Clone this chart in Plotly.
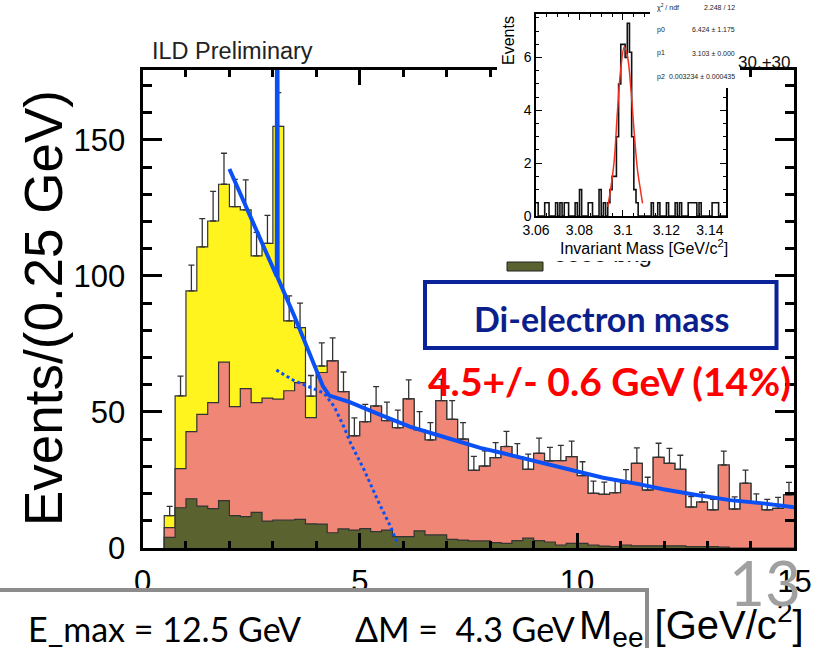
import numpy as np
import plotly.graph_objects as go

W, H = 827, 648
def PX(x): return x / W
def PY(y): return 1 - y / H

# ---------------- main histogram data (bins of 0.25 GeV starting at 0.5 GeV) ----------------
bin_start = 0.5
bin_width = 0.25
olive_bkg = [3.9,14.8,18.1,15.4,14.5,17.4,11.9,11.5,13.1,9.9,10.3,10.3,10.5,8.9,8.8,5.6,7.0,6.6,7.1,6.0,
             6.6,4.2,4.2,6.3,4.8,4.8,3.2,2.9,2.6,2.6,2.0,1.7,2.7,3.6,2.7,2.2,1.1,1.7,1.7,1.1,
             0.7,0.5,1.1,0.8,0.8,0.8,0.8,0.8,0.5,0.5,0.5,0.3,0,0,0,0,0,0]
salmon_bkg = [3.6,14.4,24.7,33.7,38.9,50.9,40.1,47.1,40.3,45.2,44.4,47.5,50.3,39.0,55.7,63.2,50.5,34.6,39.3,46.2,
              40.2,40.0,50.6,37.1,34.9,49.4,44.1,37.1,25.9,27.5,31.2,35.6,30.9,25.3,32.1,29.8,31.0,31.9,24.9,19.0,
              19.0,19.8,22.7,30.3,20.5,32.5,30.3,28.1,14.5,16.4,13.5,30.2,14.3,23.8,16.4,14.0,14.6,19.5]
yellow_sig = [4.4,26.7,51.7,61.6,66.8,65.4,73.5,65.7,54.0,56.9,100.3,25.7,20.2,7.9,2.4,0,0,0,0,0,
              0,0,0,0,0,0,0,0,0,0,0,0,0,0,0,0,0,0,0,0,
              0,0,0,0,0,0,0,0,0,0,0,0,0,0,0,0,0,0]
err_up = [3.4,7.3,9.5,10.4,10.9,11.4,10.0,11.0,8.6,10.3,12.4,9.2,9.0,7.6,8.5,8.4,7.2,6.6,6.4,7.1,
          6.8,6.5,7.0,6.7,6.4,7.8,6.9,6.1,5.2,5.6,5.5,5.6,4.8,5.6,5.6,5.0,5.6,5.7,5.1,4.5,
          4.5,4.6,5.0,5.7,4.7,5.2,5.5,5.2,3.9,3.6,3.9,5.1,4.5,4.8,3.5,3.9,4.0,4.6]

# fit curve
fit_x = [2.0, 2.5, 3.0, 3.09, 3.10, 3.11, 3.5, 4.0, 4.15, 4.3, 4.56, 4.77, 5.39, 6.15, 6.92, 7.77, 8.30,
         9.07, 9.84, 10.6, 11.45, 11.98, 12.75, 13.52, 14.28, 15.0]
fit_y = [139.3, 121.2, 103.1, 99.8, 400.0, 99.4, 85.0, 66.0, 59.5, 56.0, 54.6, 53.6, 49.5, 44.6, 40.9, 36.8, 34.8,
         31.7, 28.7, 25.8, 23.4, 21.6, 19.5, 17.6, 16.4, 15.0]
dot_x = [3.08, 3.49, 3.87, 4.18, 4.41, 4.64, 4.79, 5.10, 5.41, 5.71, 5.88]
dot_y = [65.4, 61.5, 59.0, 56.9, 52.0, 44.3, 38.5, 28.7, 17.6, 7.8, 1.1]

# ---------------- inset data ----------------
inset_start = 3.060
inset_width = 0.001
inset_counts = [0.5,0,0,0,0.5,0.5,0,0,0,0.5, 0,0.5,0,0.5,0.5,0,0,0,0.5,0,
                1.0,0,0,0,0.5,0.5,0,0,0,1.0, 0,0.5,0,0.5,1.0,1.5,1.5,3.0,5.0,6.5,
                6.5,6.0,7.3,6.2,3.0,1.0,0.5,0,0,0, 0,0,0,0.5,0,0,0.5,0,0,0,
                0.5,0,0,0,0.5,0,0.5,0,0,0, 0.5,0.5,0.5,0.5,0,0.5,0,0,0,0,
                0,0.5,0.5,0.5,0,0,0,0,0,0]
gaus_x = [3.0930,3.0945,3.0960,3.0975,3.0991,3.1006,3.1021,3.1037,3.1052,3.1067,3.1083,3.1090]
gaus_y = [0.35,1.11,2.12,4.0,5.66,6.41,6.04,4.77,3.13,1.74,0.86,0.48]

# ---------------- build figure ----------------
olive = np.array(olive_bkg)
salmon = np.array(salmon_bkg)
yellow = np.array(yellow_sig)
nb = len(olive)
edges = bin_start + bin_width * np.arange(nb + 1)
centers = edges[:-1] + bin_width / 2
cum1 = olive
cum2 = olive + salmon
cum3 = olive + salmon + yellow

def step(vals):
    xs = np.concatenate([[edges[0]], edges])
    ys = np.concatenate([[0.0], vals, [vals[-1]]])
    return xs, ys

fig = go.Figure()
outline = dict(color='#333333', width=1.2, shape='hv')
for vals, col in [(cum3, '#FFF41E'), (cum2, '#EF8676'), (cum1, '#5A622F')]:
    xs, ys = step(vals)
    fig.add_trace(go.Scatter(x=xs, y=ys, mode='lines', line=outline, fill='tozeroy',
                             fillcolor=col, showlegend=False, hoverinfo='skip'))

fig.add_trace(go.Scatter(x=centers, y=cum3, mode='markers',
                         marker=dict(size=1, color='rgba(0,0,0,0)'),
                         error_y=dict(type='data', symmetric=False, array=err_up,
                                      arrayminus=[0] * nb, color='#333333', thickness=1.3, width=3),
                         showlegend=False, hoverinfo='skip'))

fig.add_trace(go.Scatter(x=dot_x, y=dot_y, mode='lines',
                         line=dict(color='#0A50F5', width=3, dash='dot'), showlegend=False))
fig.add_trace(go.Scatter(x=fit_x, y=fit_y, mode='lines',
                         line=dict(color='#0A50F5', width=4), showlegend=False))

# partially hidden legend text (inside main subplot so the inset covers its top)
fig.add_trace(go.Scatter(x=[9.45], y=[107.4], mode='text', text=['eeee bkg'], textposition='middle right',
                         textfont=dict(family='Liberation Sans', size=24, color='#111'),
                         cliponaxis=False, showlegend=False))

# cover subplot (white area of the inset picture)
fig.add_trace(go.Scatter(x=[0], y=[0], mode='markers', marker=dict(opacity=0),
                         xaxis='x2', yaxis='y2', showlegend=False, hoverinfo='skip'))

# inset histogram
ie = inset_start + inset_width * np.arange(len(inset_counts) + 1)
ic = np.array(inset_counts)
fig.add_trace(go.Scatter(x=ie, y=np.concatenate([ic, [ic[-1]]]), mode='lines',
                         line=dict(color='#111111', width=1.6, shape='hv'),
                         xaxis='x3', yaxis='y3', showlegend=False))
fig.add_trace(go.Scatter(x=gaus_x, y=gaus_y, mode='lines', line=dict(color='#F03020', width=1.5, shape='spline'),
                         xaxis='x3', yaxis='y3', showlegend=False))
# stats box cover
fig.add_trace(go.Scatter(x=[0], y=[0], mode='markers', marker=dict(opacity=0),
                         xaxis='x4', yaxis='y4', showlegend=False, hoverinfo='skip'))

tickfont = dict(family='Liberation Sans', size=31, color='black')
fig.update_layout(
    width=W, height=H, margin=dict(l=0, r=0, t=0, b=0, autoexpand=False),
    paper_bgcolor='white', plot_bgcolor='white', showlegend=False,
    xaxis=dict(domain=[PX(142.5), PX(794.4)], range=[0, 15], showgrid=False, zeroline=False,
               showline=True, linecolor='black', linewidth=3, mirror='allticks',
               ticks='inside', ticklen=15, tickwidth=3, tickcolor='black', dtick=5, tick0=0,
               minor=dict(ticks='inside', ticklen=7, tickwidth=2.5, dtick=1, tickcolor='black'),
               tickfont=tickfont, ticklabelstandoff=4, anchor='y', automargin=False),
    yaxis=dict(domain=[PY(548), PY(70)], range=[0, 175.7], showgrid=False, zeroline=False,
               showline=True, linecolor='black', linewidth=3, mirror='allticks',
               ticks='inside', ticklen=19, tickwidth=3, tickcolor='black', dtick=50, tick0=0,
               minor=dict(ticks='inside', ticklen=9, tickwidth=2.5, dtick=10, tickcolor='black'),
               tickfont=tickfont, ticklabelstandoff=8, anchor='x', automargin=False),
    xaxis2=dict(domain=[PX(497), PX(736)], range=[0, 1], visible=False, anchor='y2', automargin=False),
    yaxis2=dict(domain=[PY(261), 1.0], range=[0, 1], visible=False, anchor='x2', automargin=False),
    xaxis3=dict(domain=[PX(536), PX(726)], range=[3.06, 3.1474], showgrid=False, zeroline=False,
                showline=True, linecolor='black', linewidth=1.5, mirror='allticks',
                ticks='inside', ticklen=6, tickwidth=1.2, tickcolor='black',
                tickvals=[3.06, 3.08, 3.10, 3.12, 3.14], ticktext=['3.06', '3.08', '3.1', '3.12', '3.14'],
                minor=dict(ticks='inside', ticklen=3, dtick=0.005, tick0=3.06, tickcolor='black'),
                tickfont=dict(family='Liberation Sans', size=14, color='black'), anchor='y3', automargin=False),
    yaxis3=dict(domain=[PY(216), PY(14)], range=[0, 7.65], showgrid=False, zeroline=False,
                showline=True, linecolor='black', linewidth=1.5, mirror='allticks',
                ticks='inside', ticklen=6, tickwidth=1.2, tickcolor='black', dtick=2, tick0=0,
                minor=dict(ticks='inside', ticklen=3, dtick=0.5, tickcolor='black'),
                tickfont=dict(family='Liberation Sans', size=14, color='black'), anchor='x3', automargin=False),
    xaxis4=dict(domain=[PX(650), PX(740)], range=[0, 1], visible=False, anchor='y4', automargin=False),
    yaxis4=dict(domain=[PY(88), 1.0], range=[0, 1], visible=False, anchor='x4', automargin=False),
)

ann = []
def A(text, x, y, size, xanchor='center', yanchor='middle', color='black', family='Liberation Sans', angle=0):
    ann.append(dict(text=text, x=PX(x), y=PY(y), xref='paper', yref='paper', showarrow=False,
                    xanchor=xanchor, yanchor=yanchor, textangle=angle,
                    font=dict(family=family, size=size, color=color)))

A('ILD Preliminary', 150, 51, 23.5, xanchor='left', color='#222')
A('30.+30', 736, 63, 17, xanchor='left', color='#111')
A('Events/(0.25 GeV)', 43, 308, 53, angle=-90)
A('M<sub>ee</sub> [GeV/c<sup>2</sup>]', 806, 625, 40, xanchor='right')
A('<b>Di-electron mass</b>', 601, 318, 34, color='#0B1F8C', family='Lato')
A('<b>4.5+/- 0.6 GeV (14%)</b>', 609, 381, 39, color='#FF0000', family='Lato')
A('E_max = 12.5 GeV', 26, 628, 34, xanchor='left', family='Lato')
A('ΔM =\u00a0\u00a04.3 GeV', 353, 628, 34, xanchor='left', family='Lato')
A('13', 765, 582, 62, color='#A0A0A0', family='Lato')
# inset texts
A('Events', 508, 40, 16, angle=-90)
A('Invariant Mass [GeV/c<sup>2</sup>]', 644, 247, 16)
sf = 7
A('χ<sup>2</sup> / ndf', 655, 7, sf, xanchor='left', color='#222')
A('2.248 / 12', 737, 7, sf, xanchor='right', color='#222')
A('p0', 655, 30, sf, xanchor='left', color='#222')
A('6.424 ± 1.175', 737, 30, sf, xanchor='right', color='#222')
A('p1', 655, 53, sf, xanchor='left', color='#222')
A('3.103 ± 0.000', 737, 53, sf, xanchor='right', color='#222')
A('p2', 655, 77, sf, xanchor='left', color='#222')
A('0.003234 ± 0.000435', 737, 77, sf, xanchor='right', color='#222')
fig.update_layout(annotations=ann)

shapes = [
    dict(type='rect', xref='paper', yref='paper', x0=PX(425), x1=PX(776.5), y0=PY(282), y1=PY(348),
         line=dict(color='#0A2398', width=4), layer='above'),
    dict(type='rect', xref='paper', yref='paper', x0=PX(-10), x1=PX(647), y0=PY(590), y1=PY(670),
         line=dict(color='#8C8C8C', width=4), layer='above'),
    dict(type='rect', xref='paper', yref='paper', x0=PX(507), x1=PX(543), y0=PY(262), y1=PY(271),
         line=dict(color='#222', width=1), fillcolor='#5A622F', layer='above'),
]
fig.update_layout(shapes=shapes)

fig.write_html('out.html')
